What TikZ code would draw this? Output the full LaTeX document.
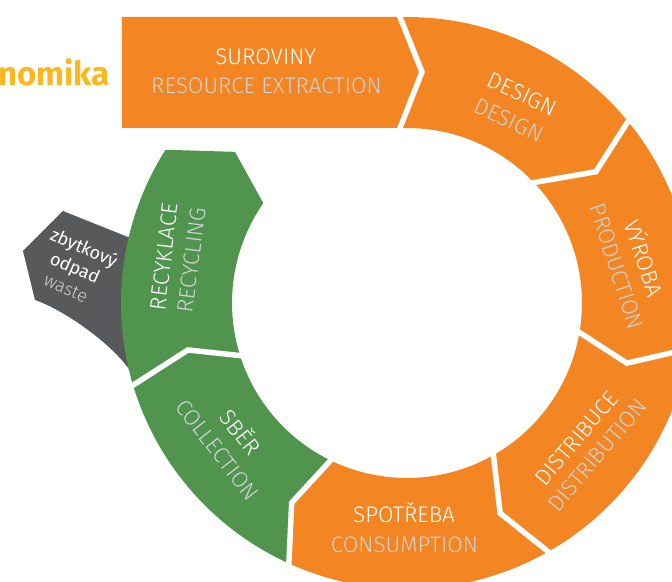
\documentclass[tikz,border=0pt]{standalone}
\usepackage{fontspec}
\setmainfont{Fira Sans}
\newfontfamily\lfont{Fira Sans Light}
\definecolor{orng}{RGB}{243,134,35}
\definecolor{grn}{RGB}{80,148,78}
\definecolor{wgray}{RGB}{88,89,91}
\definecolor{lgray}{RGB}{208,210,212}
\definecolor{gold}{RGB}{251,183,32}
\begin{document}
\begin{tikzpicture}[x=1pt,y=1pt,
  lab/.style={font=\lfont\fontsize{22.5}{26}\selectfont, text height=15.5pt, text depth=0pt, inner sep=0pt},
  wl/.style={lab,text=white},
  gl/.style={lab,text=lgray},
  wst/.style={font=\fontsize{18}{20}\selectfont, text height=12.4pt, text depth=0pt, inner sep=0pt, rotate=-24},
  gap/.style={white, line width=5.5pt, line join=miter, shorten <=-3pt, shorten >=-3pt}]
\useasboundingbox (-407,-278) rectangle (265,303);
% waste branch
\fill[wgray] (-344,92) -- (-384,52) -- (-372,3) .. controls (-345,-6) and (-295,-40) .. (-276,-69)
  -- (-247,-42) -- (-242,66) -- (-279,66) -- cycle;
% straight block
\fill[orng] (-285,286) -- (-7,286) -- (15,231) -- (-7,175) -- (-285,175) -- cycle;
% ring segments
\fill[orng] (91.4:286) arc[start angle=91.4,end angle=39.4,radius=286pt] -- (34.8:230) -- (43.5:175)
  arc[start angle=43.5,end angle=92.3,radius=175pt] -- (15,231) -- cycle;
\fill[orng] (39.4:286) arc[start angle=39.4,end angle=-9.2,radius=286pt] -- (-15.3:228) -- (-9.7:175)
  arc[start angle=-9.7,end angle=43.5,radius=175pt] -- (34.8:230) -- cycle;
\fill[orng] (-9.2:286) arc[start angle=-9.2,end angle=-60.4,radius=286pt] -- (-66.1:230) -- (-60.4:175)
  arc[start angle=-60.4,end angle=-9.7,radius=175pt] -- (-15.3:228) -- cycle;
\fill[orng] (-60.4:286) arc[start angle=-60.4,end angle=-114.4,radius=286pt] -- (-120:230.6) -- (-115.9:175)
  arc[start angle=-115.9,end angle=-60.4,radius=175pt] -- (-66.1:230) -- cycle;
\fill[grn] (-114.4:286) arc[start angle=-114.4,end angle=-163.3,radius=286pt] -- (-167.9:224) -- (-162.5:175)
  arc[start angle=-162.5,end angle=-115.9,radius=175pt] -- (-120:230.6) -- cycle;
\fill[grn] (-163.3:286) arc[start angle=-163.3,end angle=-212.4,radius=286pt] -- (-221.3:229) -- (-214.8:175)
  arc[start angle=-214.8,end angle=-162.5,radius=175pt] -- (-167.9:224) -- cycle;
% white gaps
\draw[gap] (-7,286) -- (15,231) -- (-7,175);
\draw[gap] (39.4:286) -- (34.8:230) -- (43.5:175);
\draw[gap] (-9.2:286) -- (-15.3:228) -- (-9.7:175);
\draw[gap] (-60.4:286) -- (-66.1:230) -- (-60.4:175);
\draw[gap] (-114.4:286) -- (-120:230.6) -- (-115.9:175);
\draw[gap] (-163.3:286) -- (-167.9:224) -- (-162.5:175);
% labels
\node[font=\bfseries\fontsize{33}{36}\selectfont, text=gold, anchor=base east, inner sep=0pt] (nom) at (-297,217) {nomika};
\node[wl] (sur) at (-141.2,245.8) {SUROVINY};
\node[gl] (res) at (-140.5,217.3) {RESOURCE EXTRACTION};
\node[wl,rotate=-25] (des1) at (115.3,208.7) {DESIGN};
\node[gl,rotate=-25] (des2) at (102,183) {DESIGN};
\node[wl,rotate=-72] (vyr1) at (236.3,44.7) {VÝROBA};
\node[gl,rotate=-72] (vyr2) at (209.7,36.3) {PRODUCTION};
\node[wl,rotate=50] (dis1) at (169.7,-135.3) {DISTRIBUCE};
\node[gl,rotate=50] (dis2) at (190.3,-152) {DISTRIBUTION};
\node[wl] (spo1) at (-3,-211.5) {SPOTŘEBA};
\node[gl] (spo2) at (-2.5,-241.5) {CONSUMPTION};
\node[wl,rotate=-52] (sb1) at (-167,-129.7) {SBĚR};
\node[gl,rotate=-52] (sb2) at (-189.7,-147) {COLLECTION};
\node[wl,rotate=83] (rec1) at (-243,46.3) {RECYKLACE};
\node[gl,rotate=83] (rec2) at (-215.3,43) {RECYCLING};
\node[wst,text=white] (z1) at (-323,55) {zbytkový};
\node[wst,text=white] (z2) at (-332,35) {odpad};
\node[wst,text=lgray,font=\lfont\fontsize{18}{20}\selectfont] (z3) at (-341,15) {waste};
\end{tikzpicture}
\end{document}
